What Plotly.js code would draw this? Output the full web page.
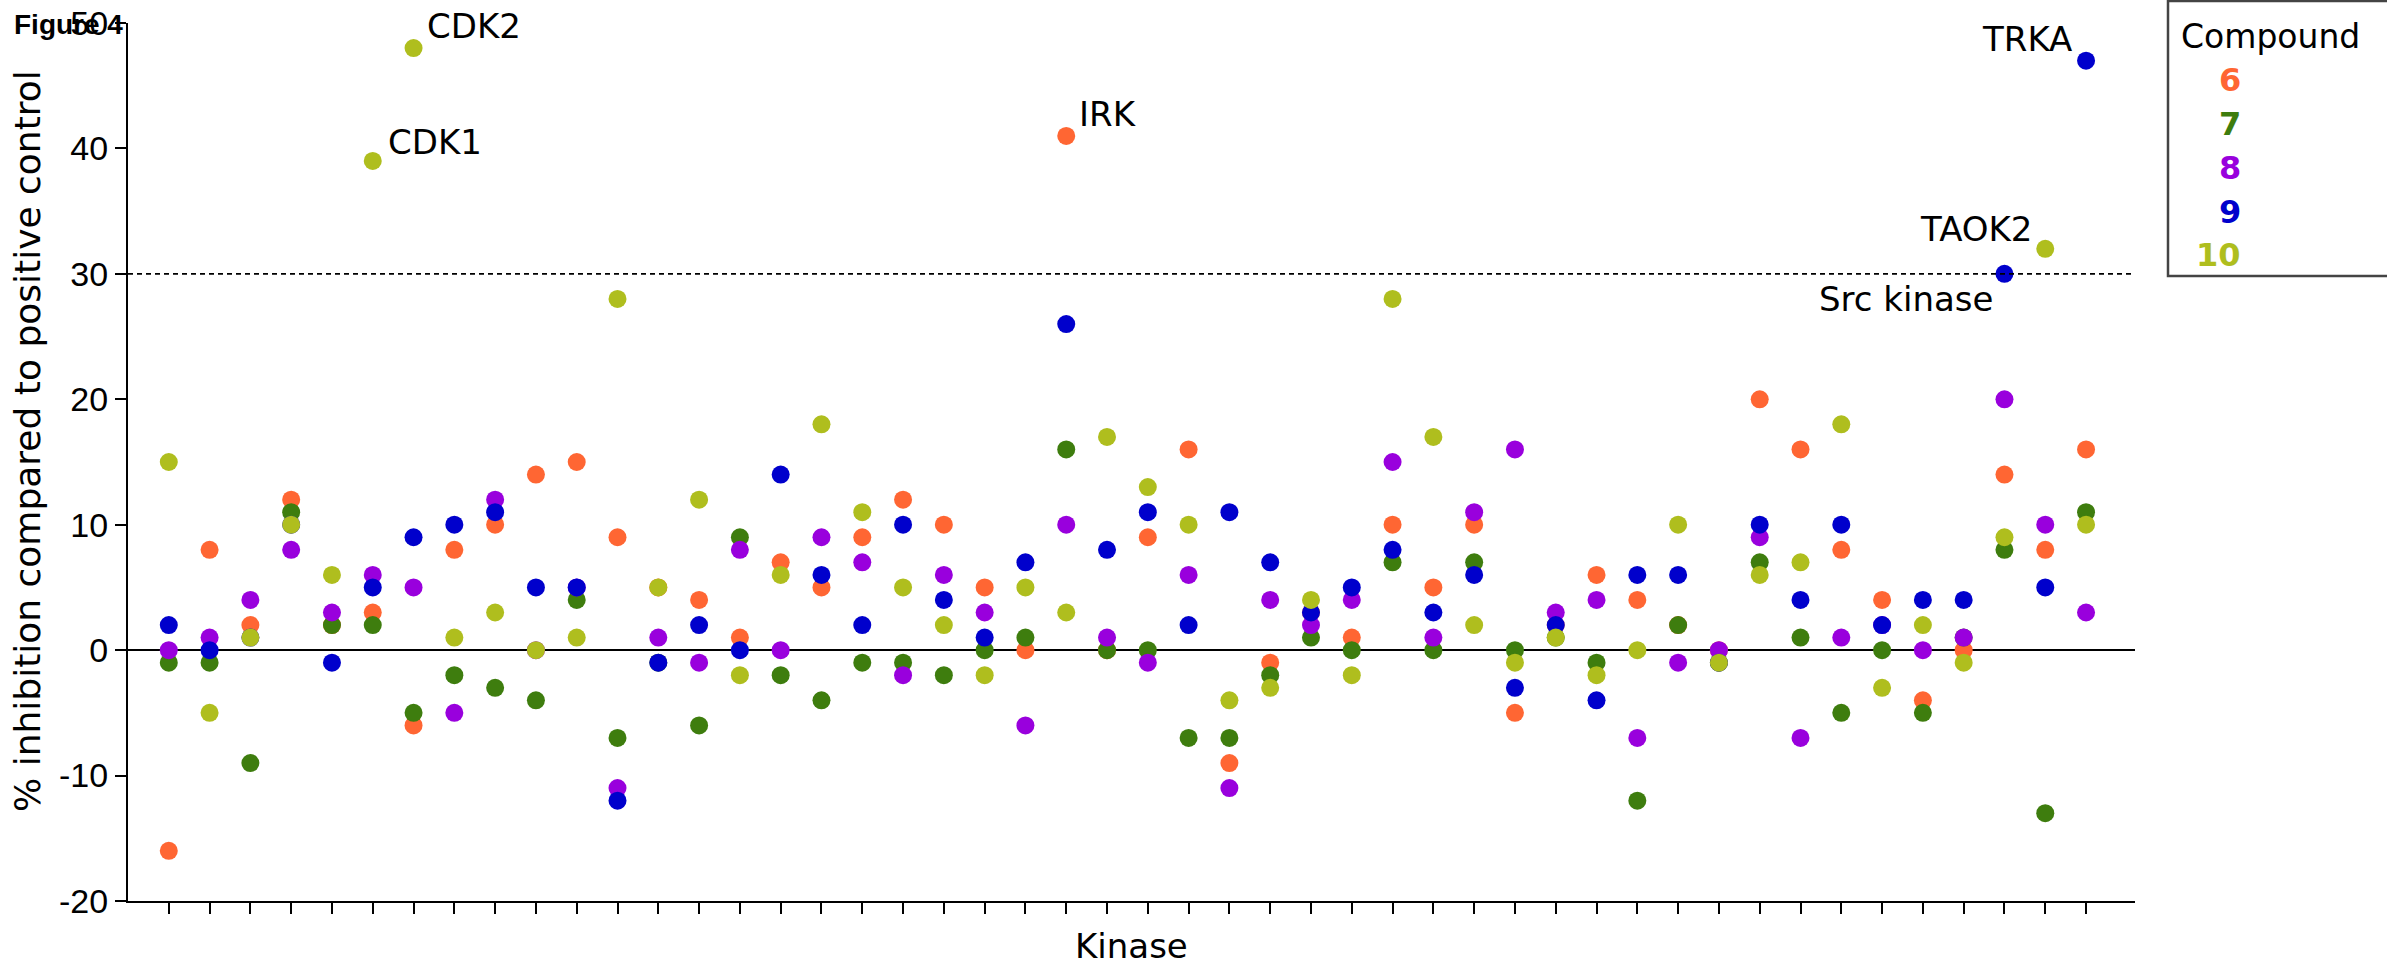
<!DOCTYPE html>
<html>
<head>
<meta charset="utf-8">
<script src="https://cdn.plot.ly/plotly-3.0.1.min.js"></script>
<style>html,body{margin:0;padding:0;background:#fff;}#chart{width:2387px;height:967px;}</style>
</head>
<body>
<div id="chart"></div>
<script>
// ---------------- data ----------------
const compounds = ['6', '7', '8', '9', '10'];
const compoundColors = ['#FF6633', '#3E7D0E', '#9900DD', '#0000CC', '#AFBE1E'];
const kinaseCount = 48;
const kinases = Array.from({length: kinaseCount}, (_, i) => i + 1);

const inhibition6  = [-16, 8, 2, 12, 2, 3, -6, 8, 10, 14, 15, 9, 5, 4, 1, 7, 5, 9, 12, 10, 5, 0, 41, 0, 9, 16, -9, -1, 3, 1, 10, 5, 10, -5, 2, 6, 4, 2, 0, 20, 16, 8, 4, -4, 0, 14, 8, 16];
const inhibition7  = [-1, -1, -9, 11, 2, 2, -5, -2, -3, -4, 4, -7, -1, -6, 9, -2, -4, -1, -1, -2, 0, 1, 16, 0, 0, -7, -7, -2, 1, 0, 7, 0, 7, 0, 1, -1, -12, 2, -1, 7, 1, -5, 0, -5, 1, 8, -13, 11];
const inhibition8  = [0, 1, 4, 8, 3, 6, 5, -5, 12, 0, 5, -11, 1, -1, 8, 0, 9, 7, -2, 6, 3, -6, 10, 1, -1, 6, -11, 4, 2, 4, 15, 1, 11, 16, 3, 4, -7, -1, 0, 9, -7, 1, 2, 0, 1, 20, 10, 3];
const inhibition9  = [2, 0, 1, 10, -1, 5, 9, 10, 11, 5, 5, -12, -1, 2, 0, 14, 6, 2, 10, 4, 1, 7, 26, 8, 11, 2, 11, 7, 3, 5, 8, 3, 6, -3, 2, -4, 6, 6, -1, 10, 4, 10, 2, 4, 4, 30, 5, 47];
const inhibition10 = [15, -5, 1, 10, 6, 39, 48, 1, 3, 0, 1, 28, 5, 12, -2, 6, 18, 11, 5, 2, -2, 5, 3, 17, 13, 10, -4, -3, 4, -2, 28, 17, 2, -1, 1, -2, 0, 10, -1, 6, 7, 18, -3, 2, -1, 9, 32, 10];
const seriesValues = [inhibition6, inhibition7, inhibition8, inhibition9, inhibition10];

const yTickValues = [-20, -10, 0, 10, 20, 30, 40, 50];
const yTickLabels = ['-20', '-10', '0', '10', '20', '30', '40', '50'];
const thresholdValue = 30;

// highlighted kinases
const hitNames    = ['CDK1', 'CDK2', 'IRK', 'Src kinase', 'TAOK2', 'TRKA'];
const hitKinase   = [6, 7, 23, 46, 47, 48];
const hitCompound = ['10', '10', '6', '9', '10', '9'];

// ---------------- layout helpers ----------------
const W = 2387, H = 967;
const PL = 128, PR = 2135, PT = 23, PB = 901;
const px = x => (x - PL) / (PR - PL);
const py = y => (PB - y) / (PB - PT);
const TXT = 'DejaVu Sans, Verdana, sans-serif';
const NUM = 'Liberation Sans, Arial, sans-serif';

const traces = compounds.map((c, i) => ({
  type: 'scatter', mode: 'markers', name: c,
  x: kinases, y: seriesValues[i],
  marker: {color: compoundColors[i], size: 18, line: {width: 0}},
  showlegend: false, hoverinfo: 'x+y+name'
}));

const hitStyle = {
  'CDK1':       {xanchor: 'left',  xshift: 13,  yshift: 19},
  'CDK2':       {xanchor: 'left',  xshift: 11,  yshift: 22},
  'IRK':        {xanchor: 'left',  xshift: 11,  yshift: 22},
  'Src kinase': {xanchor: 'right', xshift: -9,  yshift: -25},
  'TAOK2':      {xanchor: 'right', xshift: -11, yshift: 20},
  'TRKA':       {xanchor: 'right', xshift: -12, yshift: 22}
};

const annotations = [];
hitNames.forEach((n, i) => {
  const ci = compounds.indexOf(hitCompound[i]);
  const k = hitKinase[i];
  const s = hitStyle[n];
  annotations.push({
    xref: 'x', yref: 'y', x: k, y: seriesValues[ci][k - 1], text: n, showarrow: false,
    xanchor: s.xanchor, yanchor: 'middle', xshift: s.xshift, yshift: s.yshift,
    font: {family: TXT, size: 34, color: '#000'}
  });
});

// Figure label
annotations.push({xref: 'paper', yref: 'paper', x: px(12), y: py(25), xanchor: 'left', yanchor: 'middle',
  text: '<b>Figure 4</b>', showarrow: false, font: {family: NUM, size: 28, color: '#000'}});

// axis titles
annotations.push({xref: 'paper', yref: 'paper', x: px(27), y: py(441), xanchor: 'center', yanchor: 'middle',
  text: '% inhibition compared to positive control', textangle: -90, showarrow: false,
  font: {family: TXT, size: 36, color: '#000'}});
annotations.push({xref: 'paper', yref: 'paper', x: 0.5, y: py(946), xanchor: 'center', yanchor: 'middle',
  text: 'Kinase', showarrow: false, font: {family: TXT, size: 34, color: '#000'}});

// legend (drawn manually: coloured bold numbers, no symbols)
annotations.push({xref: 'paper', yref: 'paper', x: px(2179), y: py(37), xanchor: 'left', yanchor: 'middle',
  text: 'Compound', showarrow: false, font: {family: TXT, size: 33, color: '#000'}});
const legendY = [80, 124, 168, 212, 255];
compounds.forEach((c, i) => {
  annotations.push({xref: 'paper', yref: 'paper', x: px(2243), y: py(legendY[i]), xanchor: 'right', yanchor: 'middle',
    text: '<b>' + c + '</b>', showarrow: false, font: {family: TXT, size: 32, color: compoundColors[i]}});
});

const shapes = [
  {type: 'line', xref: 'paper', yref: 'y', x0: 0, x1: 1, y0: thresholdValue, y1: thresholdValue,
   line: {color: '#000', width: 1.6, dash: '5px,4px'}},
  {type: 'rect', xref: 'paper', yref: 'paper', x0: px(2168), x1: px(2400), y0: py(276), y1: py(1),
   line: {color: '#444', width: 2.5}, fillcolor: 'rgba(0,0,0,0)'}
];

const layout = {
  width: W, height: H,
  margin: {l: PL, r: W - PR, t: PT, b: H - PB, pad: 0},
  paper_bgcolor: '#fff', plot_bgcolor: '#fff',
  showlegend: false,
  xaxis: {
    range: [0, 49.2], showgrid: false, zeroline: false,
    showline: true, linecolor: '#000', linewidth: 2,
    tickmode: 'array', tickvals: kinases, showticklabels: false,
    ticks: 'outside', ticklen: 11, tickwidth: 2, tickcolor: '#000',
    fixedrange: true, automargin: false
  },
  yaxis: {
    range: [-20, 50], showgrid: false,
    zeroline: true, zerolinecolor: '#000', zerolinewidth: 2,
    showline: true, linecolor: '#000', linewidth: 2,
    tickmode: 'array', tickvals: yTickValues, ticktext: yTickLabels,
    ticks: 'outside', ticklen: 11, tickwidth: 2, tickcolor: '#000',
    tickfont: {family: NUM, size: 34, color: '#000'},
    fixedrange: true, automargin: false
  },
  shapes: shapes,
  annotations: annotations
};

Plotly.newPlot('chart', traces, layout, {displayModeBar: false, staticPlot: true});
</script>
</body>
</html>
